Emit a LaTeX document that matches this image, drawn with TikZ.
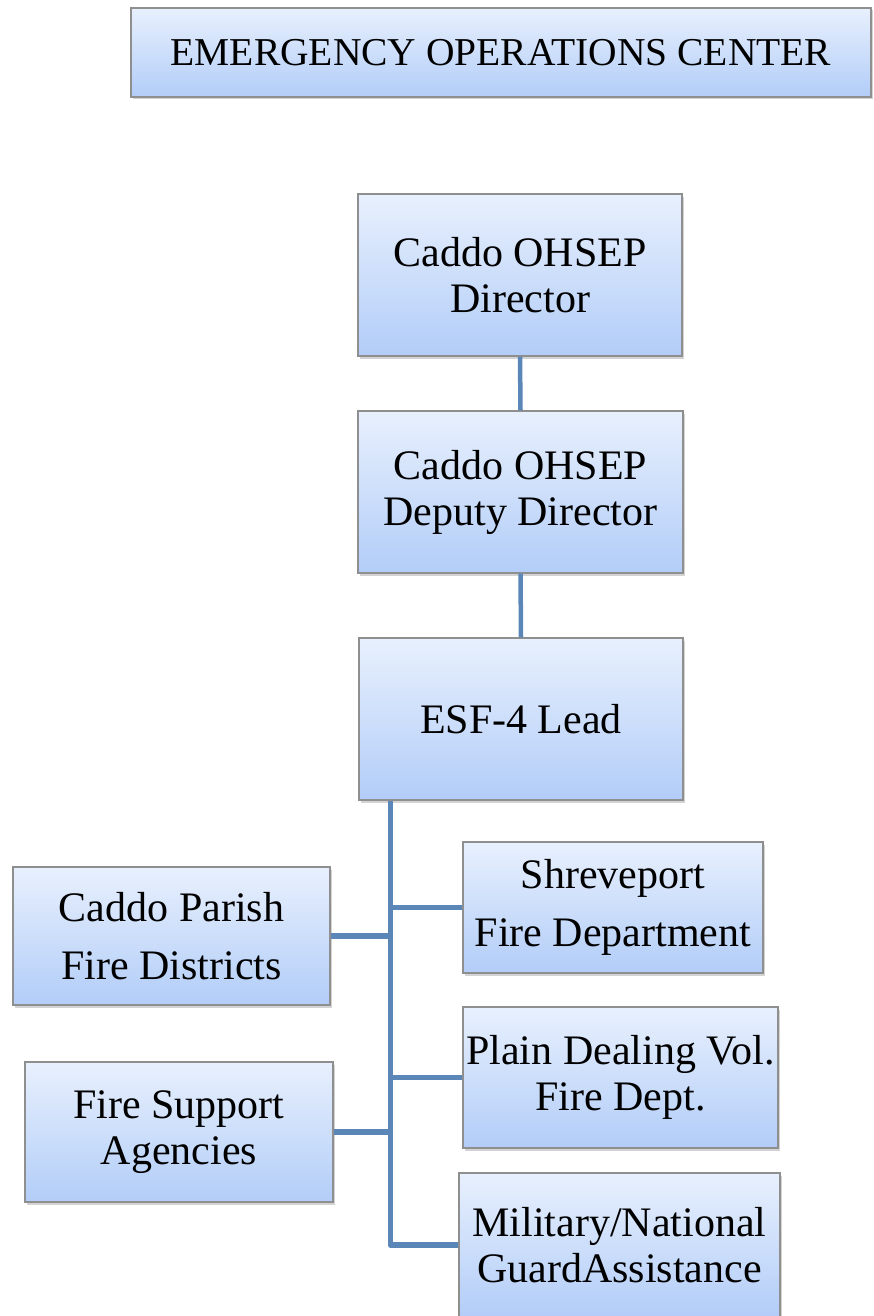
\documentclass[tikz,border=0pt]{standalone}
\usepackage{fontspec}
\setmainfont{Liberation Serif}
\usetikzlibrary{calc,shadows}

\definecolor{boxtop}{HTML}{E8F0FD}
\definecolor{boxbot}{HTML}{B2CDF8}
\definecolor{boxline}{HTML}{8F8F8F}
\definecolor{linkblue}{HTML}{5A86B8}

\begin{document}
\begin{tikzpicture}[
  x=1pt, y=-1pt,
  box/.style={draw=boxline, line width=1.3pt, top color=boxtop, bottom color=boxbot,
    align=center, inner sep=0pt, font=\fontsize{42}{46}\selectfont,
    drop shadow={shadow xshift=2pt, shadow yshift=-2.5pt, opacity=0.35}},
  widebox/.style={box, font=\fontsize{42}{58}\selectfont},
  titlebox/.style={box, font=\fontsize{39.5}{44}\selectfont},
  link/.style={draw=linkblue, line width=5.5pt},
  stem/.style={draw=linkblue, line width=4.5pt}
]
\useasboundingbox (0,0) rectangle (873,1316);

\node[titlebox, minimum width=740pt, minimum height=89pt] (eoc) at (501,52.5) {EMERGENCY OPERATIONS CENTER};

\node[box, minimum width=324pt, minimum height=162pt] (dir) at (520,275) {Caddo OHSEP\\Director};
\node[box, minimum width=325pt, minimum height=162pt] (dep) at (520.5,492) {Caddo OHSEP\\Deputy Director};
\node[box, minimum width=324pt, minimum height=162pt] (esf) at (521,719) {ESF-4 Lead};

\node[widebox, minimum width=317pt, minimum height=138pt] (cpf) at (171.5,936) {Caddo Parish\\Fire Districts};
\node[box, minimum width=308pt, minimum height=140pt] (fsa) at (179,1132) {Fire Support\\Agencies};

\node[widebox, minimum width=300pt, minimum height=131pt] (sfd) at (613,907.5) {Shreveport\\Fire Department};
\node[box, minimum width=315pt, minimum height=141pt] (pdv) at (620.5,1077.5) {Plain Dealing Vol.\\Fire Dept.};
\node[box, minimum width=321pt, minimum height=144pt] (mil) at (619.5,1245) {Military/National\\GuardAssistance};

\coordinate (tr) at ($(esf.south west)+(32,0)$);

\draw[stem] (dir.south) -- (dep.north);
\draw[stem] (dep.south) -- (esf.north);

\draw[link, line join=round] (tr) |- (mil.west);
\draw[link] (cpf.east) -- (cpf.east -| tr);
\draw[link] (fsa.east) -- (fsa.east -| tr);
\draw[link] (sfd.west) -- (sfd.west -| tr);
\draw[link] (pdv.west) -- (pdv.west -| tr);
\end{tikzpicture}
\end{document}
